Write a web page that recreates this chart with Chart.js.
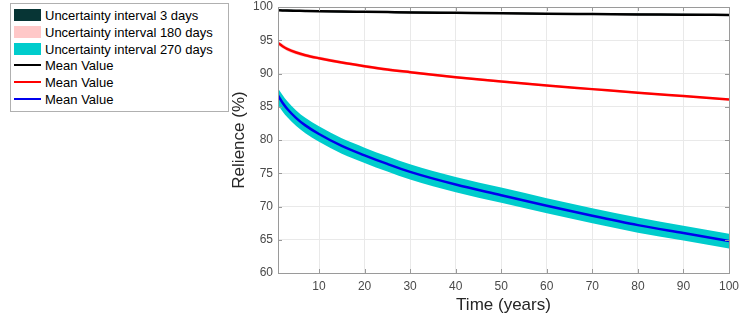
<!DOCTYPE html>
<html>
<head>
<meta charset="utf-8">
<script src="https://cdn.jsdelivr.net/npm/chart.js@4.4.1/dist/chart.umd.min.js"></script>
<style>
  html, body { margin: 0; padding: 0; background: #fff; }
  #wrap { position: relative; width: 740px; height: 320px; }
  #chart { position: absolute; left: 0; top: 0; }
  #legend {
    position: absolute; left: 10px; top: 3px; width: 217px; height: 107px;
    border: 1px solid #b0b0b0; background: #fff;
    font: 13px "Liberation Sans", Arial, sans-serif; color: #000;
  }
  .item { position: absolute; left: 0; height: 17px; width: 217px; }
  .swatch { position: absolute; left: 3px; top: 2px; width: 27px; height: 12px; }
  .stroke { position: absolute; left: 3px; top: 7px; width: 27px; height: 2px; }
  .text { position: absolute; left: 34px; top: 0; line-height: 17px; white-space: nowrap; }
</style>
</head>
<body>
<div id="wrap">
  <canvas id="chart" width="740" height="320"></canvas>
  <div id="legend"></div>
</div>
<script>
// Time axis (years)
const years = [1, 2, 3, 5, 7, 10, 15, 20, 25, 30, 40, 50, 60, 70, 80, 90, 100];

// 3-day inspection interval: mean and uncertainty band
const mean3 = [99.5, 99.48, 99.46, 99.43, 99.4, 99.36, 99.31, 99.27, 99.23, 99.19, 99.12, 99.05, 98.99, 98.94, 98.89, 98.85, 98.8];
const high3 = [99.62, 99.6, 99.58, 99.55, 99.52, 99.48, 99.43, 99.39, 99.35, 99.31, 99.24, 99.17, 99.11, 99.06, 99.01, 98.97, 98.92];
const low3  = [99.38, 99.36, 99.34, 99.31, 99.28, 99.24, 99.19, 99.15, 99.11, 99.07, 99.0, 98.93, 98.87, 98.82, 98.77, 98.73, 98.68];

// 180-day interval
const mean180 = [94.6, 94.1, 93.7, 93.15, 92.75, 92.3, 91.65, 91.1, 90.6, 90.2, 89.45, 88.8, 88.2, 87.65, 87.1, 86.6, 86.1];
const high180 = [94.95, 94.42, 94.0, 93.43, 93.02, 92.55, 91.88, 91.32, 90.81, 90.4, 89.63, 88.97, 88.36, 87.8, 87.24, 86.73, 86.22];
const low180  = [94.25, 93.78, 93.4, 92.87, 92.48, 92.05, 91.42, 90.88, 90.39, 90.0, 89.27, 88.63, 88.04, 87.5, 86.96, 86.47, 85.98];

// 270-day interval
const mean270 = [86.7, 85.6, 84.7, 83.3, 82.2, 80.9, 79.1, 77.7, 76.4, 75.2, 73.3, 71.7, 70.1, 68.6, 67.2, 66.0, 64.8];
const high270 = [87.8, 86.75, 85.85, 84.45, 83.35, 82.05, 80.25, 78.85, 77.55, 76.35, 74.45, 72.85, 71.25, 69.75, 68.35, 67.12, 65.92];
const low270  = [85.3, 84.3, 83.45, 82.1, 81.02, 79.75, 77.95, 76.55, 75.25, 74.05, 72.15, 70.57, 68.97, 67.47, 66.07, 64.87, 63.68];

// Axis ticks
const xTicks = [10, 20, 30, 40, 50, 60, 70, 80, 90, 100];
const yTicks = [60, 65, 70, 75, 80, 85, 90, 95, 100];

// Legend entries
const legendLabels = ["Uncertainty interval 3 days", "Uncertainty interval 180 days", "Uncertainty interval 270 days",
                      "Mean Value", "Mean Value", "Mean Value"];
const legendKinds = ["patch", "patch", "patch", "line", "line", "line"];
const legendColors = ["#073535", "#ffc8c8", "#00cccc", "#000000", "#ff0000", "#0000ee"];

const FONT = '"Liberation Sans", Arial, sans-serif';
const pts = arr => arr.map((v, i) => ({ x: years[i], y: v }));

function meanLine(data, color) {
  return { data: pts(data), borderColor: color, borderWidth: 2.5, pointRadius: 0,
           fill: false, cubicInterpolationMode: 'monotone' };
}
function bandUpper(data, color) {
  return { data: pts(data), borderColor: 'rgba(0,0,0,0)', borderWidth: 0, pointRadius: 0,
           backgroundColor: color, fill: '+1', cubicInterpolationMode: 'monotone' };
}
function bandLower(data) {
  return { data: pts(data), borderColor: 'rgba(0,0,0,0)', borderWidth: 0, pointRadius: 0,
           fill: false, cubicInterpolationMode: 'monotone' };
}

// Keep the plot box fixed: no extra room reserved for overhanging tick labels
function noOverhang(s) {
  s.paddingLeft = 0; s.paddingRight = 0; s.paddingTop = 0; s.paddingBottom = 0;
}

// Box outline with inward tick marks on all four sides
const boxPlugin = {
  id: 'box',
  afterDraw(chart) {
    const { ctx, chartArea: a, scales } = chart;
    ctx.save();
    ctx.strokeStyle = '#9a9a9a';
    ctx.lineWidth = 1;
    ctx.beginPath();
    ctx.rect(Math.round(a.left) + 0.5, Math.round(a.top) + 0.5,
             Math.round(a.right - a.left), Math.round(a.bottom - a.top));
    ctx.stroke();
    const L = 4;
    ctx.beginPath();
    xTicks.forEach(v => {
      const px = Math.round(scales.x.getPixelForValue(v)) + 0.5;
      ctx.moveTo(px, a.bottom); ctx.lineTo(px, a.bottom - L);
      ctx.moveTo(px, a.top); ctx.lineTo(px, a.top + L);
    });
    yTicks.forEach(v => {
      const py = Math.round(scales.y.getPixelForValue(v)) + 0.5;
      ctx.moveTo(a.left, py); ctx.lineTo(a.left + L, py);
      ctx.moveTo(a.right, py); ctx.lineTo(a.right - L, py);
    });
    ctx.stroke();
    ctx.restore();
  }
};

new Chart(document.getElementById('chart'), {
  type: 'line',
  data: {
    datasets: [
      meanLine(mean3, '#000000'),
      meanLine(mean180, '#ff0000'),
      meanLine(mean270, '#0000ee'),
      bandUpper(high3, '#073535'), bandLower(low3),
      bandUpper(high180, '#ffc8c8'), bandLower(low180),
      bandUpper(high270, '#00cccc'), bandLower(low270)
    ]
  },
  options: {
    responsive: false,
    animation: false,
    devicePixelRatio: 1,
    layout: { padding: { left: 222, top: 7, right: 11, bottom: 0 } },
    plugins: { legend: { display: false }, tooltip: { enabled: false } },
    scales: {
      x: {
        type: 'linear', min: 1, max: 100,
        afterBuildTicks: s => { s.ticks = xTicks.map(v => ({ value: v })); },
        afterFit: s => { s.height = 47; noOverhang(s); },
        grid: { color: '#e9e9e9', drawTicks: false },
        border: { color: '#9a9a9a' },
        ticks: { padding: 6, color: '#4a4a4a', font: { family: FONT, size: 12 }, maxRotation: 0 },
        title: { display: true, text: 'Time (years)', color: '#262626',
                 font: { family: FONT, size: 17 }, padding: { top: 0, bottom: 4 } }
      },
      y: {
        type: 'linear', min: 60, max: 100,
        afterBuildTicks: s => { s.ticks = yTicks.map(v => ({ value: v })); },
        afterFit: s => { s.width = 56; noOverhang(s); },
        grid: { color: '#e9e9e9', drawTicks: false },
        border: { color: '#9a9a9a' },
        ticks: { padding: 5, color: '#4a4a4a', font: { family: FONT, size: 12 } },
        title: { display: true, text: 'Relience (%)', color: '#262626',
                 font: { family: FONT, size: 17 }, padding: { top: 7, bottom: 0 } }
      }
    }
  },
  plugins: [boxPlugin]
});

// Legend box
const legend = document.getElementById('legend');
legendLabels.forEach((label, i) => {
  const row = document.createElement('div');
  row.className = 'item';
  row.style.top = (3 + i * 16.8) + 'px';
  const mark = document.createElement('div');
  mark.className = legendKinds[i] === 'patch' ? 'swatch' : 'stroke';
  mark.style.background = legendColors[i];
  const text = document.createElement('div');
  text.className = 'text';
  text.textContent = label;
  row.appendChild(mark);
  row.appendChild(text);
  legend.appendChild(row);
});
</script>
</body>
</html>
